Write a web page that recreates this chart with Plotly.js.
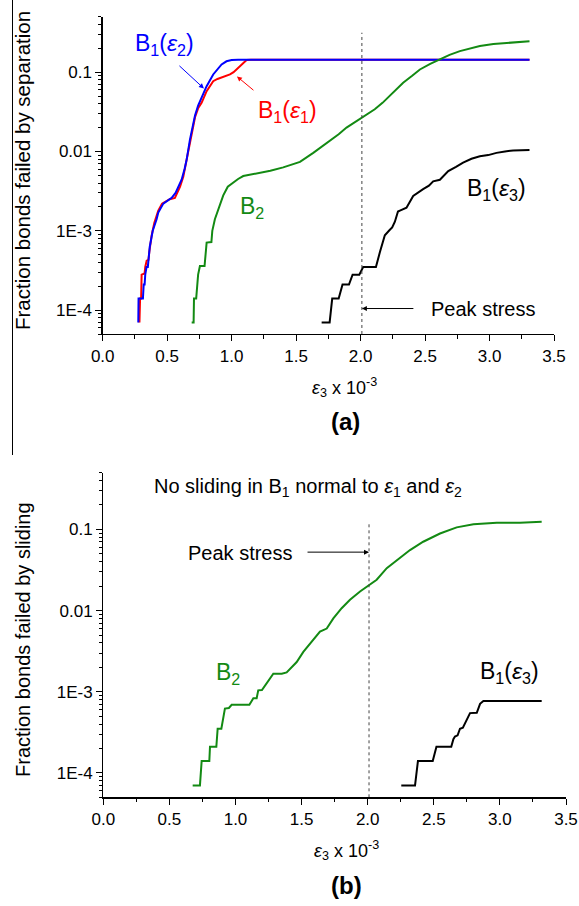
<!DOCTYPE html>
<html>
<head>
<meta charset="utf-8">
<script src="https://cdn.plot.ly/plotly-3.0.1.min.js"></script>
<style>html,body{margin:0;padding:0;background:#fff;}#chart{width:579px;height:906px;}</style>
</head>
<body>
<div id="chart"></div>
<script>
// ---------- DATA ----------
// Panel (a): fraction of bonds failed by separation
const sepB1e2X = [0.276,0.278,0.312,0.318,0.325,0.33,0.34,0.35,0.365,0.388,0.418,0.431,0.47,0.50,0.535,0.565,0.586,0.612,0.635,0.651,0.677,0.70,0.716,0.74,0.767,0.806,0.857,0.922,0.96,1.0,1.05,3.31];
const sepB1e2Y = [7e-5,1.4e-4,1.4e-4,2.1e-4,2.1e-4,2.8e-4,3.5e-4,3.5e-4,6.3e-4,1.0e-3,1.4e-3,1.7e-3,2.2e-3,2.4e-3,2.6e-3,3.0e-3,3.6e-3,4.4e-3,6.0e-3,7.9e-3,0.0142,0.021,0.0285,0.038,0.0475,0.0665,0.0935,0.125,0.137,0.142,0.143,0.143];

const sepB1e1X = [0.285,0.29,0.298,0.302,0.325,0.33,0.341,0.355,0.362,0.38,0.40,0.431,0.46,0.483,0.52,0.56,0.60,0.625,0.651,0.677,0.716,0.74,0.767,0.806,0.857,0.89,0.922,0.96,0.987,1.015,1.039,1.077,1.116,1.15,3.31];
const sepB1e1Y = [7e-5,1.4e-4,1.4e-4,2.8e-4,2.9e-4,3.5e-4,4.2e-4,4.3e-4,5.5e-4,8.8e-4,1.25e-3,1.8e-3,2.2e-3,2.3e-3,2.5e-3,2.6e-3,3.6e-3,4.8e-3,7.8e-3,0.014,0.027,0.035,0.041,0.0575,0.077,0.082,0.085,0.089,0.0935,0.1,0.108,0.125,0.142,0.143,0.143];

const sepB2X = [0.69,0.705,0.708,0.725,0.74,0.754,0.79,0.80,0.806,0.843,0.85,0.87,0.896,0.935,0.97,1.012,1.05,1.09,1.194,1.30,1.40,1.53,1.633,1.70,1.762,1.83,1.891,1.95,2.008,2.06,2.11,2.17,2.227,2.28,2.33,2.40,2.46,2.54,2.615,2.69,2.77,2.85,2.925,3.03,3.13,3.22,3.31];
const sepB2Y = [7e-5,7e-5,1.4e-4,1.4e-4,2.8e-4,3.6e-4,3.6e-4,6.3e-4,7.1e-4,7.2e-4,1.0e-3,1.4e-3,1.9e-3,2.8e-3,3.6e-3,4.1e-3,4.5e-3,4.9e-3,5.3e-3,5.7e-3,6.3e-3,7.4e-3,9.6e-3,0.0115,0.0135,0.0165,0.02,0.023,0.0266,0.03,0.034,0.041,0.05,0.06,0.0735,0.09,0.108,0.127,0.145,0.165,0.184,0.2,0.213,0.226,0.234,0.24,0.246];

const sepB1e3X = [1.698,1.76,1.78,1.83,1.86,1.91,1.938,1.99,2.02,2.119,2.15,2.188,2.227,2.245,2.266,2.29,2.305,2.356,2.408,2.45,2.485,2.53,2.563,2.615,2.68,2.74,2.795,2.86,2.925,2.99,3.054,3.12,3.183,3.31];
const sepB1e3Y = [7e-5,7e-5,1.4e-4,1.4e-4,2.1e-4,2.1e-4,2.8e-4,2.8e-4,3.5e-4,3.5e-4,5.4e-4,8.8e-4,1.03e-3,1.1e-3,1.3e-3,1.75e-3,1.8e-3,1.95e-3,2.75e-3,3.1e-3,3.35e-3,3.7e-3,4.2e-3,4.4e-3,5.65e-3,6.4e-3,7.25e-3,8.1e-3,8.7e-3,9.0e-3,9.6e-3,0.01,0.0103,0.0104];

// Panel (b): fraction of bonds failed by sliding
const slideB2X = [0.676,0.731,0.744,0.802,0.807,0.855,0.865,0.893,0.92,0.95,0.971,1.105,1.135,1.16,1.172,1.2,1.286,1.35,1.387,1.412,1.463,1.513,1.576,1.639,1.69,1.74,1.803,1.866,1.942,2.017,2.068,2.144,2.22,2.32,2.42,2.547,2.673,2.8,2.976,3.152,3.316];
const slideB2Y = [7e-5,7e-5,1.4e-4,1.4e-4,2.1e-4,2.1e-4,3.5e-4,3.5e-4,6.2e-4,6.3e-4,6.9e-4,6.9e-4,8.3e-4,8.3e-4,1.04e-3,1.05e-3,1.67e-3,1.67e-3,1.73e-3,1.92e-3,2.32e-3,3.1e-3,4.1e-3,5.5e-3,6.0e-3,8.0e-3,0.0107,0.0136,0.0172,0.0209,0.024,0.0333,0.042,0.0557,0.0705,0.089,0.106,0.116,0.121,0.121,0.124];

const slideB1e3X = [2.254,2.358,2.38,2.492,2.52,2.632,2.648,2.66,2.68,2.698,2.72,2.74,2.774,2.825,2.85,2.875,3.316];
const slideB1e3Y = [7e-5,7e-5,1.4e-4,1.4e-4,2.1e-4,2.1e-4,2.6e-4,2.8e-4,2.9e-4,3.5e-4,3.6e-4,4.2e-4,5.45e-4,5.5e-4,7.1e-4,7.7e-4,7.7e-4];

// Peak stress strain marker and its extent
const peakStrain = 2.01;
const peakLineA = [5e-5, 0.314];
const peakLineB = [5e-5, 0.12];

// Axis ticks
const yTickVals = [1e-4,1e-3,0.01,0.1];
const yTickText = ['1E-4','1E-3','0.01','0.1'];
const yRange = [5e-5, 0.5];

// ---------- STYLE ----------
const FONT = '"Liberation Sans", Arial, sans-serif';
const BLUE = '#0000ff', RED = '#ff0000', GREEN = '#138a13', BLACK = '#000000';
const L = Math.log10;
const W = 579, H = 906;

// map plotly's default decade labels ("0.0001", ...) to the reference's labels
const yAlias = {};
yTickVals.forEach((v, i) => { yAlias[v.toFixed(Math.round(-L(v)))] = yTickText[i]; });

function line(x, y, color, xa, ya, extra) {
  return Object.assign({x: x, y: y, type: 'scatter', mode: 'lines', xaxis: xa, yaxis: ya,
    line: {color: color, width: 2}, hoverinfo: 'skip', showlegend: false}, extra || {});
}

const traces = [
  line(sepB1e1X, sepB1e1Y, RED, 'x', 'y'),
  line(sepB1e2X, sepB1e2Y, BLUE, 'x', 'y'),
  line(sepB2X, sepB2Y, GREEN, 'x', 'y'),
  line(sepB1e3X, sepB1e3Y, BLACK, 'x', 'y'),
  line([peakStrain, peakStrain], peakLineA, '#444', 'x', 'y', {line: {color: '#444', width: 1, dash: 'dot'}}),
  line(slideB2X, slideB2Y, GREEN, 'x2', 'y2'),
  line(slideB1e3X, slideB1e3Y, BLACK, 'x2', 'y2'),
  line([peakStrain, peakStrain], peakLineB, '#444', 'x2', 'y2', {line: {color: '#444', width: 1, dash: 'dot'}})
];

const tickFont = {family: FONT, size: 17, color: '#000'};

function xAxis(domain, anchor) {
  return {domain: domain, anchor: anchor, range: [0, 3.5], tickmode: 'linear', tick0: 0, dtick: 0.5, tickformat: '.1f',
    showline: true, linecolor: '#000', linewidth: 1.3, ticks: 'outside', ticklen: 6, tickwidth: 1, tickcolor: '#000',
    minor: {tickmode: 'linear', tick0: 0, dtick: 0.25, ticks: 'outside', ticklen: 3.5, tickwidth: 1, tickcolor: '#000', showgrid: false},
    showgrid: false, zeroline: false, tickfont: tickFont};
}
function yAxis(domain, anchor) {
  return {domain: domain, anchor: anchor, type: 'log', range: [L(yRange[0]), L(yRange[1])],
    tickmode: 'linear', tick0: 0, dtick: 1, exponentformat: 'none', labelalias: yAlias,
    showline: true, linecolor: '#000', linewidth: 1.3, ticks: 'outside', ticklen: 6, tickwidth: 1, tickcolor: '#000',
    minor: {dtick: 'D1', ticks: 'outside', ticklen: 3.5, tickwidth: 1, tickcolor: '#000', showgrid: false},
    showgrid: false, zeroline: false, tickfont: tickFont};
}

function txt(text, x, y, xref, yref, size, color, extra) {
  return Object.assign({text: text, x: x, y: y, xref: xref, yref: yref, showarrow: false,
    xanchor: 'center', yanchor: 'middle', font: {family: FONT, size: size, color: color}}, extra || {});
}
function arrow(x, y, ax, ay, xref, yref, color) {
  return {text: '', x: x, y: y, xref: xref, yref: yref, ax: ax, ay: ay, axref: 'pixel', ayref: 'pixel',
    showarrow: true, arrowhead: 2, arrowsize: 1, arrowwidth: 1, arrowcolor: color, standoff: 0, startstandoff: 0};
}

const annotations = [
  // panel (a)
  txt('B<sub>1</sub>(<i>ε</i><sub>2</sub>)', 0.483, -0.651, 'x', 'y', 23, BLUE),
  arrow(0.785, -1.206, -26, -24, 'x', 'y', BLUE),
  txt('B<sub>1</sub>(<i>ε</i><sub>1</sub>)', 1.437, -1.496, 'x', 'y', 23, RED),
  arrow(1.041, -1.054, 18, 15, 'x', 'y', RED),
  txt('B<sub>2</sub>', 1.157, -2.706, 'x', 'y', 23, GREEN),
  txt('B<sub>1</sub>(<i>ε</i><sub>3</sub>)', 3.057, -2.479, 'x', 'y', 23, BLACK),
  txt('Peak stress', 2.948, -3.98, 'x', 'y', 20, BLACK),
  arrow(peakStrain, -3.98, 53, 0, 'x', 'y', BLACK),
  // panel (b)
  txt('No sliding in B<sub>1</sub> normal to <i>ε</i><sub>1</sub> and <i>ε</i><sub>2</sub>', 1.548, -0.478, 'x2', 'y2', 20, BLACK),
  txt('Peak stress', 1.035, -1.293, 'x2', 'y2', 20, BLACK),
  arrow(peakStrain, -1.28, -63, 0, 'x2', 'y2', BLACK),
  txt('B<sub>2</sub>', 0.943, -2.774, 'x2', 'y2', 23, GREEN),
  txt('B<sub>1</sub>(<i>ε</i><sub>3</sub>)', 3.069, -2.762, 'x2', 'y2', 23, BLACK),
  // axis titles and panel labels
  txt('Fraction bonds failed by separation', 23/W, 1 - 171/H, 'paper', 'paper', 20.5, BLACK, {textangle: -90}),
  txt('Fraction bonds failed by sliding', 23/W, 1 - 640/H, 'paper', 'paper', 20, BLACK, {textangle: -90}),
  txt('<i>ε</i><sub>3</sub> x 10<sup>-3</sup>', 344/W, 1 - 388/H, 'paper', 'paper', 18, BLACK),
  txt('<b>(a)</b>', 345/W, 1 - 422/H, 'paper', 'paper', 24, BLACK),
  txt('<i>ε</i><sub>3</sub> x 10<sup>-3</sup>', 347/W, 1 - 850/H, 'paper', 'paper', 18, BLACK),
  txt('<b>(b)</b>', 347/W, 1 - 885/H, 'paper', 'paper', 24, BLACK)
];

const xDomA = [102.7/W, 554/W], yDomA = [1 - 334/H, 1 - 16.7/H];
const xDomB = [103.3/W, 566/W], yDomB = [1 - 797.3/H, 1 - 472.7/H];

const layout = {
  width: W, height: H,
  margin: {l: 0, r: 0, t: 0, b: 0},
  paper_bgcolor: '#fff', plot_bgcolor: '#fff',
  font: {family: FONT, color: '#000'},
  showlegend: false,
  xaxis: xAxis(xDomA, 'y'),
  yaxis: yAxis(yDomA, 'x'),
  xaxis2: xAxis(xDomB, 'y2'),
  yaxis2: yAxis(yDomB, 'x2'),
  annotations: annotations,
  shapes: [{type: 'line', xref: 'paper', yref: 'paper', x0: 12.5/W, x1: 12.5/W, y0: 1, y1: 1 - 455/H,
    line: {color: '#000', width: 1}}]
};

Plotly.newPlot('chart', traces, layout, {staticPlot: true, displayModeBar: false});
</script>
</body>
</html>
